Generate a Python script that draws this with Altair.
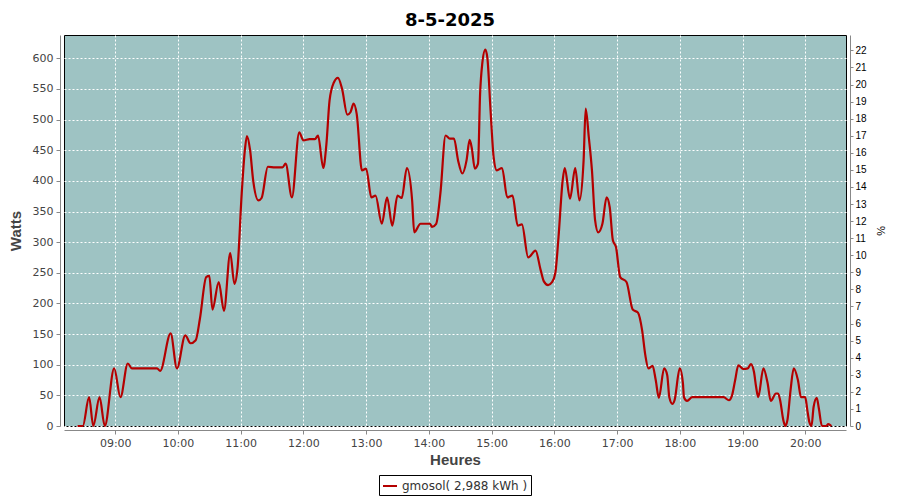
import altair as alt
import pandas as pd

chart_title = "8-5-2025"
series_name = "gmosol( 2,988 kWh )"
day = "2025-05-08"

times = ["08:24", "08:29", "08:35", "08:39", "08:45", "08:50", "08:59", "09:05", "09:12", "09:16",
         "09:28", "09:40", "09:43", "09:53", "09:59", "10:07", "10:12", "10:17", "10:21", "10:27",
         "10:30", "10:33", "10:39", "10:44", "10:50", "10:54", "10:57", "11:01", "11:04", "11:06",
         "11:09", "11:12", "11:17", "11:20", "11:26", "11:33", "11:40", "11:43", "11:49", "11:56",
         "12:00", "12:06", "12:11", "12:14", "12:19", "12:22", "12:25", "12:29", "12:33", "12:37",
         "12:42", "12:45", "12:48", "12:51", "12:56", "13:00", "13:05", "13:09", "13:15", "13:20",
         "13:25", "13:30", "13:34", "13:39", "13:44", "13:46", "13:52", "14:01", "14:03", "14:07",
         "14:11", "14:16", "14:20", "14:24", "14:28", "14:32", "14:36", "14:39", "14:41", "14:44",
         "14:47", "14:49", "14:51", "14:54", "14:56", "14:59", "15:02", "15:05", "15:10", "15:15",
         "15:20", "15:25", "15:29", "15:35", "15:42", "15:47", "15:50", "15:54", "15:58", "16:01",
         "16:04", "16:08", "16:10", "16:15", "16:20", "16:24", "16:28", "16:30", "16:33", "16:36",
         "16:39", "16:42", "16:46", "16:50", "16:53", "16:56", "16:59", "17:03", "17:09", "17:15",
         "17:20", "17:24", "17:27", "17:30", "17:34", "17:37", "17:40", "17:45", "17:48", "17:50",
         "17:53", "17:55", "18:00", "18:03", "18:04", "18:07", "18:12", "18:42", "18:47", "18:50",
         "18:53", "18:56", "19:01", "19:05", "19:08", "19:11", "19:13", "19:15", "19:20", "19:24",
         "19:27", "19:32", "19:34", "19:36", "19:39", "19:41", "19:43", "19:46", "19:49", "19:53",
         "19:56", "20:00", "20:02", "20:04", "20:06", "20:08", "20:11", "20:13", "20:16", "20:20",
         "20:22", "20:25"]

watts = [0, 0, 47, 0, 47, 0, 94, 47, 102, 94,
         94, 94, 90, 151, 94, 148, 135, 140, 175, 243,
         245, 190, 235, 188, 282, 232, 258, 380, 450, 473,
         450, 400, 368, 372, 423, 422, 422, 428, 373, 479,
         466, 468, 468, 474, 421, 460, 531, 560, 568, 550,
         508, 512, 526, 509, 417, 420, 373, 376, 330, 373,
         327, 376, 372, 421, 368, 316, 330, 330, 325, 330,
         379, 474, 469, 469, 433, 412, 433, 467, 454, 420,
         428, 542, 590, 614, 600, 515, 438, 417, 421, 373,
         376, 327, 329, 275, 286, 254, 236, 230, 235, 250,
         308, 401, 421, 371, 421, 368, 433, 518, 471, 417,
         336, 316, 330, 373, 357, 303, 292, 243, 235, 190,
         185, 156, 116, 94, 98, 75, 46, 94, 83, 47,
         36, 42, 94, 70, 47, 41, 47, 47, 42, 50,
         75, 99, 93, 94, 101, 88, 64, 47, 94, 70,
         41, 53, 53, 42, 10, 0, 10, 59, 94, 75,
         47, 47, 26, 6, 0, 31, 46, 29, 0, 0,
         3, 0]

hour_ticks = [9, 10, 11, 12, 13, 14, 15, 16, 17, 18, 19, 20]
watts_ticks = [0, 50, 100, 150, 200, 250, 300, 350, 400, 450, 500, 550, 600]
watts_domain = [0, 638]
pct_ticks = list(range(0, 23))
pct_domain = [0, 22.9]

x_start = alt.DateTime(year=2025, month=5, date=8, hours=8, minutes=11)
x_end = alt.DateTime(year=2025, month=5, date=8, hours=20, minutes=39)
x_tick_values = [alt.DateTime(year=2025, month=5, date=8, hours=h, minutes=0) for h in hour_ticks]

df = pd.DataFrame({
    "time": [f"{day}T{t}:00" for t in times],
    "watts": watts,
    "series": [series_name] * len(times),
})
pct_df = pd.DataFrame({"pct": pct_ticks})

label_font = "DejaVu Sans"

line = alt.Chart(df).mark_line(strokeWidth=2.2, interpolate="monotone").encode(
    x=alt.X("time:T",
            scale=alt.Scale(domain=[x_start, x_end], nice=False),
            axis=alt.Axis(title="Heures", format="%H:%M", values=x_tick_values,
                          grid=True, gridColor="white", gridDash=[2, 2], gridOpacity=1,
                          domainColor="#888888", tickColor="#888888", tickSize=4, offset=4,
                          labelFont=label_font, labelFontSize=11, labelColor="#444444",
                          labelPadding=3, titleFont="Liberation Sans", titleFontSize=15,
                          titleFontWeight="bold", titleColor="#444444", titlePadding=4)),
    y=alt.Y("watts:Q",
            scale=alt.Scale(domain=watts_domain, nice=False, zero=True),
            axis=alt.Axis(title="Watts", values=watts_ticks,
                          grid=True, gridColor="white", gridDash=[2, 2], gridOpacity=1,
                          domainColor="#888888", tickColor="#888888", tickSize=4, offset=4,
                          labelFont=label_font, labelFontSize=11, labelColor="#444444",
                          labelPadding=3, titleFont="Liberation Sans", titleFontSize=15,
                          titleFontWeight="bold", titleColor="#444444", titlePadding=9)),
    color=alt.Color("series:N", scale=alt.Scale(range=["#b40000"]),
                    legend=alt.Legend(title=None, orient="none", legendX=315, legendY=440,
                                      strokeColor="black", fillColor="white", padding=3,
                                      symbolType="stroke", symbolStrokeWidth=2, symbolSize=196,
                                      labelFont=label_font, labelFontSize=12,
                                      labelColor="#333333")),
)

pct_layer = alt.Chart(pct_df).mark_point(opacity=0).encode(
    y=alt.Y("pct:Q",
            scale=alt.Scale(domain=pct_domain, nice=False),
            axis=alt.Axis(title="%", orient="right", values=pct_ticks, grid=False,
                          domainColor="#888888", tickColor="#888888", tickSize=3, offset=4,
                          labelFont="Liberation Sans", labelFontSize=10, labelColor="black",
                          labelPadding=2, titleFont="Liberation Sans", titleFontSize=11,
                          titleFontWeight="normal", titleColor="black", titlePadding=8)),
)

chart = alt.layer(line, pct_layer).resolve_scale(y="independent").properties(
    width=782,
    height=391,
    padding={"left": 56, "top": 27, "right": 46, "bottom": 71},
    autosize=alt.AutoSizeParams(type="none"),
    title=alt.TitleParams(text=chart_title, fontSize=18, fontWeight="bold", font="DejaVu Sans",
                          color="black", anchor="middle", dx=-5, offset=5),
).configure_view(
    fill="#9ec3c3", stroke="black", strokeWidth=1
)

chart.save("out.html", embed_options={"renderer": "svg", "actions": False})
